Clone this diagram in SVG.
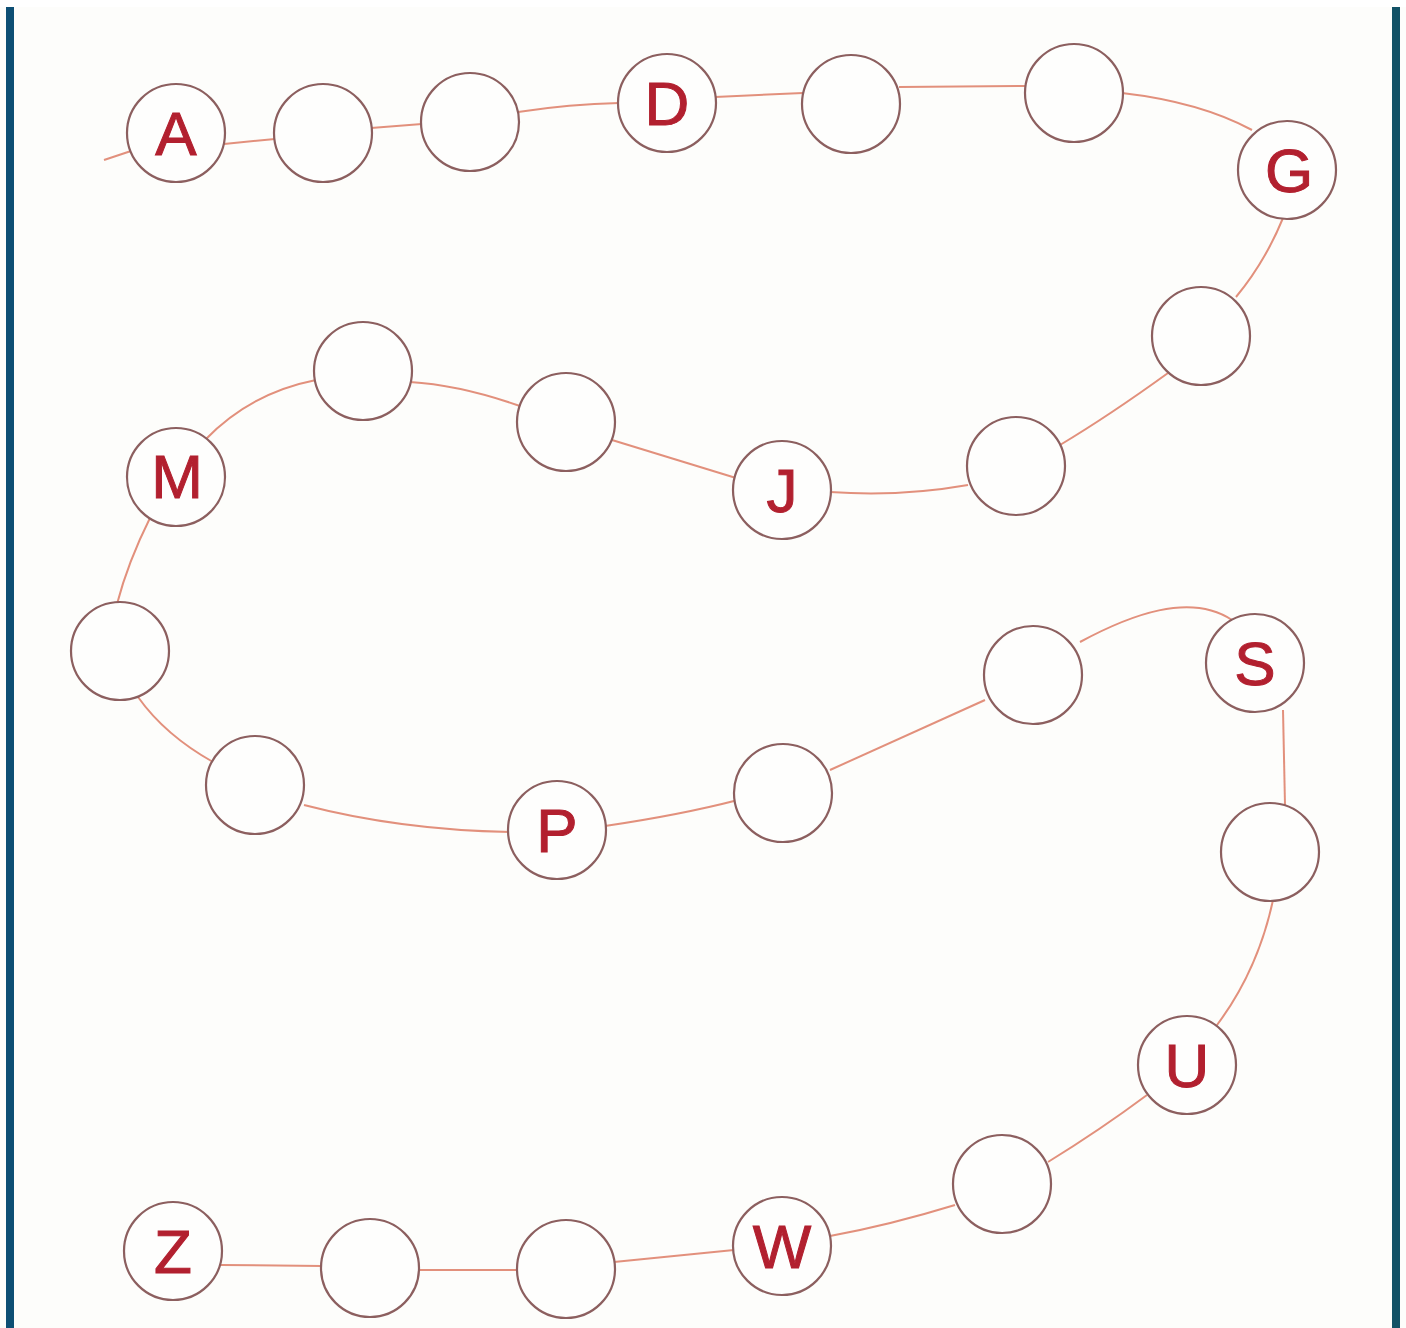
<svg xmlns="http://www.w3.org/2000/svg" width="1406" height="1328" viewBox="0 0 1406 1328">
<style>
.n circle{fill:#fefefd;stroke:#8c5f5f;stroke-width:2.2}
.n text{font-family:"Liberation Sans",Arial,sans-serif;font-size:62px;fill:#b2202f;stroke:#b2202f;stroke-width:1;text-anchor:middle}
#connectors path{fill:none;stroke:#e2907c;stroke-width:2}
</style>
<rect width="1406" height="1328" fill="#fdfdfb"/>
<rect x="0" y="0" width="1406" height="7" fill="#ffffff"/>
<rect x="6" y="7" width="8" height="1321" fill="#0d4f74"/>
<rect x="1392" y="7" width="8" height="1321" fill="#125266"/>
<g id="connectors">
<path d="M104,160 L131,151"/>
<path d="M224,144 L275,139"/>
<path d="M371,128 L422,124"/>
<path d="M518,112 Q570,104 619,103"/>
<path d="M715,97 L803,93"/>
<path d="M899,87 L1026,86"/>
<path d="M1122,93 Q1200,102 1252,130"/>
<path d="M1283,218 Q1265,262 1236,297"/>
<path d="M1168,373 Q1110,415 1060,445"/>
<path d="M968,485 Q900,497 830,492"/>
<path d="M736,478 L612,440"/>
<path d="M520,406 Q460,385 410,382"/>
<path d="M316,380 Q250,393 205,440"/>
<path d="M150,518 Q128,562 117,604"/>
<path d="M138,697 Q165,735 213,762"/>
<path d="M304,805 Q400,830 510,832"/>
<path d="M605,826 Q680,815 738,800"/>
<path d="M830,770 L985,700"/>
<path d="M1080,642 C1130,615 1190,592 1232,620"/>
<path d="M1283,710 L1285,805"/>
<path d="M1273,900 Q1258,970 1217,1025"/>
<path d="M1147,1095 Q1100,1130 1048,1162"/>
<path d="M955,1205 Q890,1225 830,1236"/>
<path d="M734,1250 L614,1262"/>
<path d="M518,1270 L418,1270"/>
<path d="M322,1266 L221,1265"/>
</g>
<g id="nA" class="n"><circle cx="176" cy="133" r="49"/><text x="176" y="155">A</text></g>
<g id="n2" class="n"><circle cx="323" cy="133" r="49"/></g>
<g id="n3" class="n"><circle cx="470" cy="122" r="49"/></g>
<g id="nD" class="n"><circle cx="667" cy="103" r="49"/><text x="667" y="125">D</text></g>
<g id="n5" class="n"><circle cx="851" cy="104" r="49"/></g>
<g id="n6" class="n"><circle cx="1074" cy="93" r="49"/></g>
<g id="nG" class="n"><circle cx="1287" cy="170" r="49"/><text x="1289" y="192">G</text></g>
<g id="n8" class="n"><circle cx="1201" cy="336" r="49"/></g>
<g id="n9" class="n"><circle cx="1016" cy="466" r="49"/></g>
<g id="nJ" class="n"><circle cx="782" cy="490" r="49"/><text x="782" y="512">J</text></g>
<g id="n11" class="n"><circle cx="566" cy="422" r="49"/></g>
<g id="n12" class="n"><circle cx="363" cy="371" r="49"/></g>
<g id="nM" class="n"><circle cx="176" cy="477" r="49"/><text x="177" y="498">M</text></g>
<g id="n14" class="n"><circle cx="120" cy="651" r="49"/></g>
<g id="n15" class="n"><circle cx="255" cy="785" r="49"/></g>
<g id="nP" class="n"><circle cx="557" cy="830" r="49"/><text x="557" y="852">P</text></g>
<g id="n17" class="n"><circle cx="783" cy="793" r="49"/></g>
<g id="n18" class="n"><circle cx="1033" cy="675" r="49"/></g>
<g id="nS" class="n"><circle cx="1255" cy="663" r="49"/><text x="1255" y="685">S</text></g>
<g id="n20" class="n"><circle cx="1270" cy="852" r="49"/></g>
<g id="nU" class="n"><circle cx="1187" cy="1065" r="49"/><text x="1187" y="1087">U</text></g>
<g id="n22" class="n"><circle cx="1002" cy="1184" r="49"/></g>
<g id="nW" class="n"><circle cx="782" cy="1246" r="49"/><text x="782" y="1268">W</text></g>
<g id="n24" class="n"><circle cx="566" cy="1269" r="49"/></g>
<g id="n25" class="n"><circle cx="370" cy="1268" r="49"/></g>
<g id="nZ" class="n"><circle cx="173" cy="1251" r="49"/><text x="173" y="1273">Z</text></g>
</svg>
